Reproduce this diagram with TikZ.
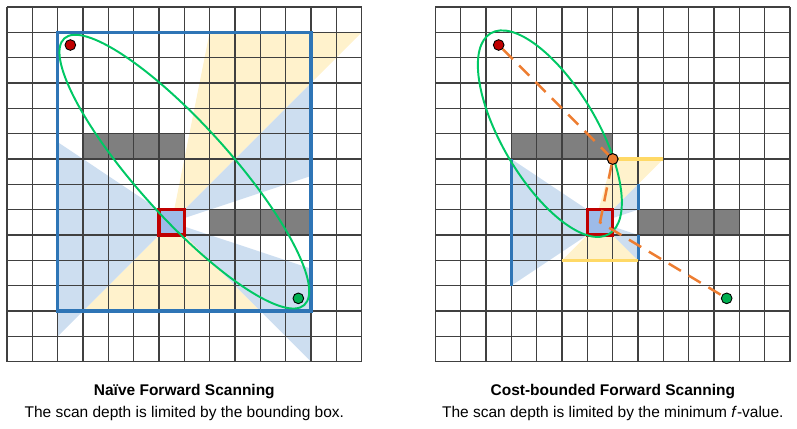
\documentclass[tikz,border=0pt]{standalone}
\usepackage{fontspec}
\setmainfont{Liberation Sans}
\definecolor{gridc}{RGB}{64,64,64}
\definecolor{boxblue}{RGB}{46,117,182}
\definecolor{fillblue}{RGB}{205,222,240}
\definecolor{fillyellow}{RGB}{255,242,204}
\definecolor{lineyellow}{RGB}{255,217,102}
\definecolor{obst}{RGB}{127,127,127}
\definecolor{curfill}{RGB}{157,187,232}
\definecolor{curred}{RGB}{192,0,0}
\definecolor{ellgreen}{RGB}{0,200,100}
\definecolor{pathorange}{RGB}{237,125,49}
\definecolor{startred}{RGB}{192,0,0}
\definecolor{goalgreen}{RGB}{0,176,80}
\begin{document}
\begin{tikzpicture}[x=0.5cm,y=0.5cm,
  gridline/.style={draw=gridc, line width=0.6pt},
  yfill/.style={fill=fillyellow},
  bfill/.style={fill=fillblue},
  obstacle/.style={fill=obst},
  bbox/.style={draw=boxblue, line width=1.9pt},
  bound/.style={draw=boxblue, line width=1.7pt},
  ybound/.style={draw=lineyellow, line width=1.7pt},
  curcell/.style={draw=curred, fill=curfill, line width=1.7pt},
  ell/.style={draw=ellgreen, line width=1.1pt},
  dot/.style={circle, draw=black, line width=0.5pt, minimum size=6pt, inner sep=0pt},
  trail/.style={draw=pathorange, line width=1.4pt, dash pattern=on 8pt off 5pt},
  title/.style={font=\fontsize{8.7}{10}\selectfont\bfseries, anchor=base},
  sub/.style={font=\fontsize{8.7}{10}\selectfont, anchor=base}]
\useasboundingbox (0,0) rectangle (31.461,-16.895);

% ---------------- left diagram ----------------
\begin{scope}[shift={(0.2763,-0.2763)}, yscale=-1]
  \fill[yfill] (6.5,8.5) -- (8,1) -- (14,1) -- cycle;
  \fill[yfill] (6.5,8.5) -- (3,12) -- (10,12) -- cycle;
  \fill[bfill] (6.5,8.5) -- (12,3) -- (12,6.67) -- cycle;
  \fill[bfill] (6.5,8.5) -- (12,10.33) -- (12,14) -- cycle;
  \fill[bfill] (6.75,8.5) -- (2,5.333) -- (2,13) -- (6.5,8.5) -- cycle;
  \fill[obstacle] (3,5) rectangle (7,6);
  \fill[obstacle] (8,8) rectangle (12,9);
  \foreach \k in {0,...,14} {
    \draw[gridline] (\k,0) -- (\k,14);
    \draw[gridline] (0,\k) -- (14,\k);
  }
  \draw[bbox] (2,1) rectangle (12,12);
  \draw[curcell] (6,8) rectangle (7,9);
  \draw[ell, rotate around={48:(7,6.5)}] (7,6.5) ellipse [x radius=7.08, y radius=1.83];
  \node[dot, fill=startred] (s1) at (2.5,1.5) {};
  \node[dot, fill=goalgreen] (g1) at (11.5,11.5) {};
\end{scope}

% ---------------- right diagram ----------------
\begin{scope}[shift={(17.185,-0.2763)}, yscale=-1]
  \fill[yfill] (7,6) -- (9,6) -- (6.5,8.5) -- (6.3,8.5) -- cycle;
  \fill[yfill] (6.5,8.5) -- (5,10) -- (8,10) -- cycle;
  \fill[bfill] (6.5,8.5) -- (8,7) -- (8,8) -- cycle;
  \fill[bfill] (6.5,8.5) -- (8,9) -- (8,10) -- cycle;
  \fill[bfill] (6.75,8.5) -- (3,6) -- (3,11) -- cycle;
  \fill[obstacle] (3,5) rectangle (7,6);
  \fill[obstacle] (8,8) rectangle (12,9);
  \foreach \k in {0,...,14} {
    \draw[gridline] (\k,0) -- (\k,14);
    \draw[gridline] (0,\k) -- (14,\k);
  }
  \draw[bound] (3,6) -- (3,11);
  \draw[bound] (8,7) -- (8,8);
  \draw[bound] (8,9) -- (8,10);
  \draw[ybound] (7,6) -- (9,6);
  \draw[ybound] (5,10) -- (8,10);
  \draw[curcell] (6,8) rectangle (7,9);
  \draw[ell, rotate around={59.5:(4.52,5.0)}] (4.52,5.0) ellipse [x radius=4.6, y radius=1.88];
  \coordinate (c2) at (6.5,8.5);
  \node[dot, fill=startred] (s2) at (2.5,1.5) {};
  \node[dot, fill=goalgreen] (g2) at (11.5,11.5) {};
  \node[dot, fill=pathorange] (o2) at (7,6) {};
  \draw[trail] (s2) -- (o2) -- (c2) -- (g2);
  \node[dot, fill=pathorange] at (o2) {};
\end{scope}

% ---------------- captions ----------------
\node[title] (t1) at (7.276,-15.63) {Naïve Forward Scanning};
\node[sub] (u1) at (7.276,-16.47) {The scan depth is limited by the bounding box.};
\node[title] (t2) at (24.19,-15.63) {Cost-bounded Forward Scanning};
\node[sub] (u2) at (24.19,-16.47) {The scan depth is limited by the minimum \textit{f}-value.};
\end{tikzpicture}
\end{document}
